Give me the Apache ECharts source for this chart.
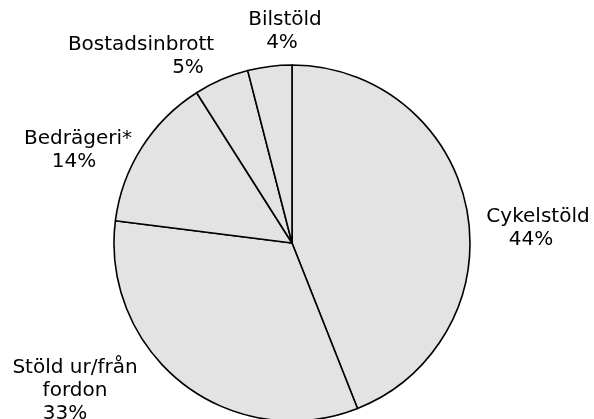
<!DOCTYPE html>
<html>
<head>
<meta charset="utf-8">
<script src="https://cdn.jsdelivr.net/npm/echarts@6/dist/echarts.min.js"></script>
<style>
html, body { margin: 0; padding: 0; background: #fff; }
#main { width: 594px; height: 419px; }
</style>
</head>
<body>
<div id="main"></div>
<script>
var categories = ['Cykelstöld', 'Stöld ur/från\nfordon', 'Bedrägeri*', 'Bostadsinbrott', 'Bilstöld'];
var shares = [44, 33, 14, 5, 4];

// where each label block sits (centre), and how far its % line is shifted
var labelSpots = [[538, 228], [75, 391], [78, 150], [141, 56], [285, 31]];
var pctShift = [-7, -10, -4, 47, -3];

var pieData = [];
for (var i = 0; i < categories.length; i++) {
    pieData.push({ name: categories[i], value: shares[i] });
}

var myChart = echarts.init(document.getElementById('main'));

var option = {
    animation: false,
    series: [
        {
            type: 'pie',
            center: [292, 243],
            radius: 178,
            startAngle: 90,
            clockwise: true,
            avoidLabelOverlap: false,
            itemStyle: {
                color: '#e3e3e3',
                borderColor: '#000',
                borderWidth: 1.6
            },
            label: {
                position: 'outside',
                formatter: function (p) {
                    var lines = p.name.split('\n');
                    var out = lines.map(function (l) { return '{t|' + l + '}'; });
                    var s = pctShift[p.dataIndex];
                    out.push('{' + (s >= 0 ? 'r' : 'l') + p.dataIndex + '|' + p.value + '%}');
                    return out.join('\n');
                },
                rich: (function () {
                    var base = {
                        fontFamily: 'DejaVu Sans',
                        fontSize: 20,
                        color: '#000',
                        align: 'center',
                        lineHeight: 23
                    };
                    var r = { t: base };
                    for (var k = 0; k < pctShift.length; k++) {
                        var s = pctShift[k];
                        var st = Object.assign({}, base);
                        st.padding = s >= 0 ? [0, 0, 0, 2 * s] : [0, -2 * s, 0, 0];
                        r[(s >= 0 ? 'r' : 'l') + k] = st;
                    }
                    return r;
                })()
            },
            labelLine: { show: false },
            labelLayout: function (params) {
                var spot = labelSpots[params.dataIndex];
                return {
                    x: spot[0],
                    y: spot[1],
                    align: 'center',
                    verticalAlign: 'middle',
                    hideOverlap: false
                };
            },
            emphasis: { disabled: true },
            data: pieData
        }
    ]
};
myChart.setOption(option);
</script>
</body>
</html>
